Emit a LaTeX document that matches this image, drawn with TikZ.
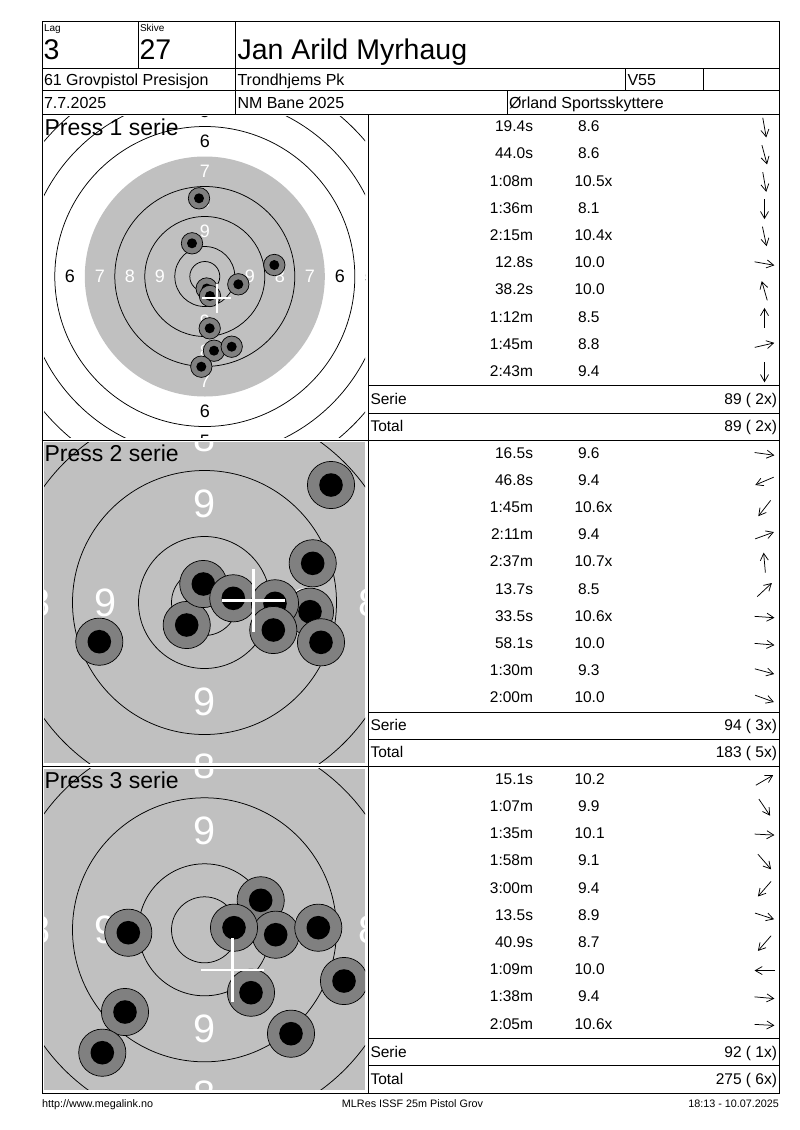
\documentclass[tikz,border=0pt]{standalone}
\usepackage{fontspec}
\setmainfont{Liberation Sans}
\usetikzlibrary{arrows.meta,calc}
\definecolor{tgrey}{RGB}{192,192,192}
\definecolor{sgrey}{RGB}{128,128,128}
\newcommand\myfs[1]{\fontsize{#1pt}{#1pt}\selectfont}
\tikzset{
  grid/.style={line width=1pt, black},
  ring/.style={line width=0.75pt, black},
  txt/.style={inner sep=0pt, outer sep=0pt},
  hdr/.style={txt, anchor=base west, font=\myfs{16}},
  big/.style={txt, anchor=base west, font=\myfs{28.5}},
  tiny/.style={txt, anchor=base west, font=\myfs{10}},
  tab/.style={txt, font=\myfs{15.5}},
  foot/.style={txt, font=\myfs{10.8}},
  press/.style={txt, anchor=base west, font=\myfs{23}},
  lab/.style={txt, anchor=center},
  shotout/.style={fill=sgrey, draw=black, line width=0.7pt},
  crossline/.style={white, line cap=butt},
  arr/.style={line width=0.75pt, -{Straight Barb[length=7pt,width=8pt]}}
}
\newcommand\tablesec[5]{%
  \foreach \t/\s/\o/\a [count=\i] in {#3} {
    \node[tab, anchor=base east] (#1t\i) at (533,{#2+(\i-1)*27.19+17.8}) {\t};
    \node[tab, anchor=base west] (#1s\i) at (\o,{#2+(\i-1)*27.19+17.8}) {\s};
    \coordinate (#1a\i) at (764.5,{#2+(\i-0.5)*27.19});
    \draw[arr] ($(#1a\i)+({180-(\a)}:10)$) -- ($(#1a\i)+({0-(\a)}:10)$);
  }
  \draw[grid] (368,{#2+10*27.19}) -- (779,{#2+10*27.19});
  \draw[grid] (368,{#2+11*27.19}) -- (779,{#2+11*27.19});
  \node[tab, anchor=base west] (#1serie) at (370.5,{#2+10*27.19+18.5}) {Serie};
  \node[tab, anchor=base east] (#1sv) at (777,{#2+10*27.19+18.5}) {#4};
  \node[tab, anchor=base west] (#1total) at (370.5,{#2+11*27.19+18.5}) {Total};
  \node[tab, anchor=base east] (#1tv) at (777,{#2+11*27.19+18.5}) {#5};
}
\newcommand\zoomtarget[5]{% #1 id, #2 top y, #3 centre y, #4 shots, #5 cross x/y
  \begin{scope}
    \clip (44,{#2+2}) rectangle (365,{#2+323});
    \coordinate (#1c) at (204.5,#3);
    \fill[tgrey] (44,{#2+2}) rectangle (365,{#2+323});
    \foreach \r in {33,66,132,198} \draw[ring] (#1c) circle[radius=\r pt];
    \foreach \n/\r in {9/99,8/165}
      \foreach \dx/\dy [count=\k] in {0/-1,0/1,-1/0,1/0}
        \node[lab, text=white, font=\myfs{39.6}] (#1l\n\k) at ($(#1c)+(\dx*\r,\dy*\r)$) {\n};
    \foreach \x/\y in {#4} {
      \filldraw[shotout] (\x,\y) circle[radius=23.6pt];
      \fill[black] (\x,\y) circle[radius=11.8pt];
    }
    \foreach \cx/\cy in {#5} {
      \draw[crossline, line width=2.8pt] (\cx-31.7,\cy) -- (\cx+31.7,\cy) (\cx,\cy-31.7) -- (\cx,\cy+31.7);
    }
  \end{scope}
}
\begin{document}
\begin{tikzpicture}[x=1pt,y=-1pt]
\useasboundingbox (0,0) rectangle (800,1130);
\fill[white] (0,0) rectangle (800,1130);

% ---------- Target 1 ----------
\begin{scope}
  \clip (44,116) rectangle (365,437);
  \coordinate (ac) at (204.8,276.5);
  \fill[tgrey] (ac) circle[radius=120pt];
  \foreach \r in {15,30,60,90,150,180,210} \draw[ring] (ac) circle[radius=\r pt];
  \foreach \n/\r/\c in {9/45/white,8/75/white,7/105/white,6/135/black,5/165/black}
    \foreach \dx/\dy [count=\k] in {0/-1,0/1,-1/0,1/0}
      \node[lab, text=\c, font=\myfs{18}] (al\n\k) at ($(ac)+(\dx*\r,\dy*\r)$) {\n};
  \foreach \x/\y in {214/350.7,231.7/346.7,206.7/288.5,201.3/366.7,210/296,238.3/284.3,192/243.3,199/198.3,274.3/265,209.7/328.3} {
    \filldraw[shotout] (\x,\y) circle[radius=10.7pt];
    \fill[black] (\x,\y) circle[radius=5pt];
  }
  \draw[crossline, line width=1.8pt] (202.2,298) -- (231.2,298) (216.7,283.5) -- (216.7,312.5);
\end{scope}

% ---------- Target 2 ----------
\zoomtarget{b}{440.3}{602.5}{310/611.7,99.3/641.7,186.7/625,312.7/563.3,203.3/584,331/485,233.3/598.3,275/603.3,321/642.3,273.3/630}{253.3/600.7}

% ---------- Target 3 ----------
\zoomtarget{c}{766.6}{929.8}{260.7/900.3,251/992.7,275.7/934.7,291/1033.7,125/1012,344/981,102.3/1052.7,128.3/932.7,318.3/927.7,234/927.7}{232.7/970}

% ---------- Press labels ----------
\node[press] (p1) at (44.5,135.5) {Press 1 serie};
\node[press] (p2) at (44.5,461.8) {Press 2 serie};
\node[press] (p3) at (44.5,788.1) {Press 3 serie};

% ---------- Grid ----------
\draw[grid] (42,21) rectangle (779,1093);
\draw[grid] (42,68) -- (779,68);
\draw[grid] (42,90) -- (779,90);
\draw[grid] (42,114) -- (779,114);
\draw[grid] (138,21) -- (138,68);
\draw[grid] (235,21) -- (235,114);
\draw[grid] (625,68) -- (625,90);
\draw[grid] (703,68) -- (703,90);
\draw[grid] (507,90) -- (507,114);
\draw[grid] (368,114) -- (368,1093);
\draw[grid] (42,440.3) -- (779,440.3);
\draw[grid] (42,766.6) -- (779,766.6);

% ---------- Header ----------
\node[tiny] (hlag) at (44,31) {Lag};
\node[big] (hlagv) at (43.5,59.5) {3};
\node[tiny] (hsk) at (140,31) {Skive};
\node[big] (hskv) at (139.5,59.5) {27};
\node[big] (hname) at (237.5,59.5) {Jan Arild Myrhaug};
\node[hdr] (hcls) at (44,85.5) {61 Grovpistol Presisjon};
\node[hdr] (hclub) at (237.5,85.5) {Trondhjems Pk};
\node[hdr] (hage) at (627.5,85.5) {V55};
\node[hdr] (hdate) at (44,108.5) {7.7.2025};
\node[hdr] (hev) at (237.5,108.5) {NM Bane 2025};
\node[hdr] (horg) at (509,108.5) {Ørland Sportsskyttere};

% ---------- Tables ----------
\tablesec{x}{114}{19.4s/8.6/578/-80,44.0s/8.6/578/-75,1:08m/10.5x/574.5/-80,1:36m/8.1/578/-90,2:15m/10.4x/574.5/-78,12.8s/10.0/574.5/-10,38.2s/10.0/574.5/106,1:12m/8.5/578/90,1:45m/8.8/578/13,2:43m/9.4/578/-90}{89 ( 2x)}{89 ( 2x)}
\tablesec{y}{440.3}{16.5s/9.6/578/-8,46.8s/9.4/578/-157,1:45m/10.6x/574.5/-128,2:11m/9.4/578/20,2:37m/10.7x/574.5/95,13.7s/8.5/578/43,33.5s/10.6x/574.5/-4,58.1s/10.0/574.5/-5,1:30m/9.3/578/-15,2:00m/10.0/574.5/-20}{94 ( 3x)}{183 ( 5x)}
\tablesec{z}{766.6}{15.1s/10.2/574.5/30,1:07m/9.9/578/-56,1:35m/10.1/574.5/-3,1:58m/9.1/578/-49,3:00m/9.4/578/-131,13.5s/8.9/578/-18,40.9s/8.7/578/-131,1:09m/10.0/574.5/180,1:38m/9.4/578/-5,2:05m/10.6x/574.5/-3}{92 ( 1x)}{275 ( 6x)}

% ---------- Footer ----------
\node[foot, anchor=base west] (f1) at (42,1107) {http://www.megalink.no};
\node[foot, anchor=base] (f2) at (412.5,1107) {MLRes ISSF 25m Pistol Grov};
\node[foot, anchor=base east] (f3) at (779,1107) {18:13 - 10.07.2025};
\end{tikzpicture}
\end{document}
